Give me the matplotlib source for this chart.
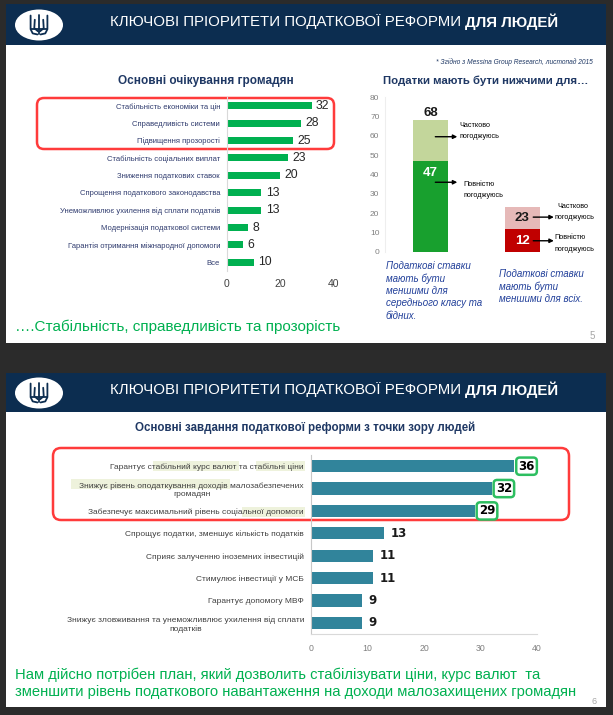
import matplotlib.pyplot as plt
from matplotlib.patches import Rectangle, Ellipse, FancyBboxPatch

plt.rcParams['font.family'] = ['Liberation Sans', 'DejaVu Sans']

# slide 5, left chart
expect_labels = ['Стабільність економіки та цін', 'Справедливість системи', 'Підвищення прозорості',
                 'Стабільність соціальних виплат', 'Зниження податкових ставок',
                 'Спрощення податкового законодавства', 'Унеможливлює ухилення від сплати податків',
                 'Модернізація податкової системи', 'Гарантія отримання міжнародної допомоги', 'Все']
expect_values = [32, 28, 25, 23, 20, 13, 13, 8, 6, 10]

# slide 5, right chart (stacked)
groups = ['середній клас та бідні', 'всі']
fully_agree = [47, 12]
partly_agree = [21, 11]

# slide 6 chart
task_labels = ['Гарантує стабільний курс валют та стабільні ціни',
               'Знижує рівень оподаткування доходів малозабезпечених\nгромадян',
               'Забезпечує максимальний рівень соціальної допомоги',
               'Спрощує податки, зменшує кількість податків',
               'Сприяє залученню іноземних інвестицій',
               'Стимулює інвестиції у МСБ',
               'Гарантує допомогу МВФ',
               'Знижує зловживання та унеможливлює ухилення від сплати\nподатків']
task_values = [36, 32, 29, 13, 11, 11, 9, 9]

NAVY = '#0c2d50'
TNAVY = '#1f3864'
GREEN = '#00b050'

W, H = 613, 715
fig = plt.figure(figsize=(W / 100, H / 100), dpi=100)
fig.patch.set_facecolor('#2b2b2b')
bg = fig.add_axes([0, 0, 1, 1])
bg.set_xlim(0, W)
bg.set_ylim(H, 0)
bg.axis('off')


def px_axes(x0, y0, x1, y1):
    ax = fig.add_axes([x0 / W, 1 - y1 / H, (x1 - x0) / W, (y1 - y0) / H])
    ax.set_facecolor('none')
    return ax


def trident(cx, cy, s=1.0):
    kw = dict(color=NAVY, lw=1.3, solid_capstyle='round')
    bg.plot([cx, cx], [cy - 10 * s, cy + 9 * s], **kw)
    for d in (-1, 1):
        bg.plot([cx + d * 8 * s, cx + d * 8 * s, cx + d * 6 * s, cx + d * 1.5 * s],
                [cy - 9 * s, cy + 4 * s, cy + 8 * s, cy + 9 * s], **kw)
        bg.plot([cx + d * 4 * s, cx + d * 4.5 * s, cx + d * 1 * s],
                [cy - 5 * s, cy + 3 * s, cy + 6 * s], **kw)
    bg.plot([cx - 8 * s, cx + 8 * s], [cy + 4 * s, cy + 4 * s], **kw)


def header(y0, h, cy):
    bg.add_patch(Rectangle((6, y0), 600, h, fc=NAVY, ec='none'))
    bg.add_patch(Ellipse((39, cy + 3), 48, 31, fc='white', ec='none'))
    trident(39, cy + 3, 1.05)
    t = bg.text(110, cy, 'КЛЮЧОВІ ПРІОРИТЕТИ ПОДАТКОВОЇ РЕФОРМИ ', color='white',
                fontsize=10.8, va='center', ha='left')
    bg.annotate('ДЛЯ ЛЮДЕЙ', xy=(1, 0.5), xycoords=t, va='center', ha='left',
                color='white', fontsize=10.8, fontweight='bold')


# ---------------- slide 5 ----------------
bg.add_patch(Rectangle((6, 4), 600, 339, fc='white', ec='none'))
header(4, 41, 22)
bg.text(593, 62, '* Згідно з Messina Group Research, листопад 2015', ha='right', va='center',
        fontsize=4.8, style='italic', color=TNAVY)
bg.text(206, 81, 'Основні очікування громадян', ha='center', va='center',
        fontsize=8.5, fontweight='bold', color=TNAVY)
bg.text(486, 81, 'Податки мають бути нижчими для…', ha='center', va='center',
        fontsize=8.2, fontweight='bold', color=TNAVY)

bg.add_patch(FancyBboxPatch((37, 98), 297, 51, boxstyle='round,pad=0,rounding_size=7',
                            fc='none', ec='#ff3b3b', lw=1.8))

ax1 = px_axes(227, 97, 333, 271)
ax1.barh(range(len(expect_values)), expect_values, height=0.4, color=GREEN)
for i, v in enumerate(expect_values):
    ax1.text(v + 1.6, i, str(v), ha='left', va='center', fontsize=8.8, color='#262626')
ax1.set_xlim(0, 40)
ax1.set_ylim(len(expect_values) - 0.5, -0.5)
ax1.set_xticks([0, 20, 40])
ax1.set_yticks(range(len(expect_labels)))
ax1.set_yticklabels(expect_labels, fontsize=5.5, color='#2f3b6e')
ax1.tick_params(axis='x', length=0, pad=6, labelsize=7.5, labelcolor='#404040')
ax1.tick_params(axis='y', length=0, pad=5)
for sp in ['top', 'right', 'bottom']:
    ax1.spines[sp].set_visible(False)
ax1.spines['left'].set_color('#d9d9d9')

ax2 = px_axes(385, 97, 568, 252)
xpos = range(len(groups))
ax2.bar(xpos, fully_agree, width=0.38, color=['#18a02e', '#c00000'])
ax2.bar(xpos, partly_agree, bottom=fully_agree, width=0.38, color=['#c3d69b', '#e6b9b8'])
ax2.set_xlim(-0.5, 1.5)
ax2.set_ylim(0, 80)
ax2.set_yticks(range(0, 81, 10))
ax2.set_xticks([])
ax2.tick_params(axis='y', length=0, pad=4, labelsize=6, labelcolor='#808080')
for sp in ['top', 'right', 'bottom']:
    ax2.spines[sp].set_visible(False)
ax2.spines['left'].set_color('#eeeeee')

tot = [f + p for f, p in zip(fully_agree, partly_agree)]
ax2.text(0, tot[0] + 0.8, str(tot[0]), ha='center', va='bottom', fontsize=9.5,
         fontweight='bold', color='#1a1a1a')
ax2.text(-0.01, fully_agree[0] - 6, str(fully_agree[0]), ha='center', va='center',
         fontsize=9.5, fontweight='bold', color='white')
ax2.text(1, tot[1] - 5.5, str(tot[1]), ha='center', va='center', fontsize=9.5,
         fontweight='bold', color='#1a1a1a')
ax2.text(1, fully_agree[1] - 6.5, str(fully_agree[1]), ha='center', va='center',
         fontsize=9.5, fontweight='bold', color='white')

arrow = dict(arrowstyle='-|>', color='black', lw=1.0, mutation_scale=6, shrinkA=0, shrinkB=0)
nfs = 5.2
ax2.annotate('', xy=(0.29, 59.5), xytext=(0.05, 59.5), arrowprops=arrow)
ax2.text(0.31, 65.5, 'Частково', fontsize=nfs, va='center')
ax2.text(0.31, 59.8, 'погоджуюсь', fontsize=nfs, va='center')
ax2.annotate('', xy=(0.29, 36), xytext=(0.05, 36), arrowprops=arrow)
ax2.text(0.36, 35, 'Повністю', fontsize=nfs, va='center')
ax2.text(0.36, 29.4, 'погоджуюсь', fontsize=nfs, va='center')
ax2.annotate('', xy=(1.345, 18), xytext=(1.12, 18), arrowprops=arrow)
ax2.text(1.38, 23.4, 'Частково', fontsize=nfs, va='center')
ax2.text(1.35, 17.8, 'погоджуюсь', fontsize=nfs, va='center')
ax2.annotate('', xy=(1.345, 5.8), xytext=(1.12, 5.8), arrowprops=arrow)
ax2.text(1.35, 7.4, 'Повністю', fontsize=nfs, va='center')
ax2.text(1.35, 1.2, 'погоджуюсь', fontsize=nfs, va='center')

cap = dict(fontsize=7, style='italic', color='#22409a', va='top', ha='left', linespacing=1.28)
bg.text(386, 261, 'Податкові ставки\nмають бути\nменшими для\nсереднього класу та\nбідних.', **cap)
bg.text(499, 269, 'Податкові ставки\nмають бути\nменшими для всіх.', **cap)

bg.text(15, 327, '….Стабільність, справедливість та прозорість', fontsize=11, color=GREEN,
        va='center')
bg.text(592, 336, '5', fontsize=7, color='#a6a6a6', ha='center', va='center')

# ---------------- slide 6 ----------------
bg.add_patch(Rectangle((6, 373), 600, 334, fc='white', ec='none'))
header(373, 39, 390)
bg.text(305, 428, 'Основні завдання податкової реформи з точки зору людей', ha='center',
        va='center', fontsize=8.3, fontweight='bold', color=TNAVY)

for x0, x1, yc in [(153, 239, 466), (256, 305, 466), (71, 230, 484), (242, 305, 512)]:
    bg.add_patch(Rectangle((x0, yc - 5), x1 - x0, 10, fc='#eef2dc', ec='none'))
bg.add_patch(FancyBboxPatch((53, 448), 516, 72, boxstyle='round,pad=0,rounding_size=8',
                            fc='none', ec='#ff3b3b', lw=1.8))

ax3 = px_axes(311, 455, 537, 634)
ax3.barh(range(len(task_values)), task_values, height=0.55, color='#31849b')
for i, v in enumerate(task_values):
    if i < 3:
        ax3.text(v + 0.7, i, str(v), ha='left', va='center', fontsize=8.5, fontweight='bold',
                 family='DejaVu Sans',
                 bbox=dict(boxstyle='round,pad=0.18,rounding_size=0.3', fc='white',
                           ec='#2dbe60', lw=1.8))
    else:
        ax3.text(v + 1.1, i, str(v), ha='left', va='center', fontsize=8.5, fontweight='bold',
                 family='DejaVu Sans', color='#1a1a1a')
ax3.set_xlim(0, 40)
ax3.set_ylim(len(task_values) - 0.5, -0.5)
ax3.set_xticks(range(0, 41, 10))
ax3.set_yticks(range(len(task_labels)))
ax3.set_yticklabels(task_labels, fontsize=6, color='#404040')
for lbl in ax3.get_yticklabels():
    lbl.set_multialignment('center')
ax3.tick_params(axis='x', length=0, pad=7, labelsize=6.3, labelcolor='#808080')
ax3.tick_params(axis='y', length=0, pad=5)
for sp in ['top', 'right']:
    ax3.spines[sp].set_visible(False)
ax3.spines['left'].set_color('#c8c8c8')
ax3.spines['bottom'].set_color('#d9d9d9')

bg.text(15, 675, 'Нам дійсно потрібен план, який дозволить стабілізувати ціни, курс валют  та',
        fontsize=10.6, color=GREEN, va='center')
bg.text(15, 692, 'зменшити рівень податкового навантаження на доходи малозахищених громадян',
        fontsize=10.6, color=GREEN, va='center')
bg.text(594, 702, '6', fontsize=6.5, color='#a6a6a6', ha='center', va='center')

fig.savefig('out.png', dpi=100, facecolor=fig.get_facecolor())
